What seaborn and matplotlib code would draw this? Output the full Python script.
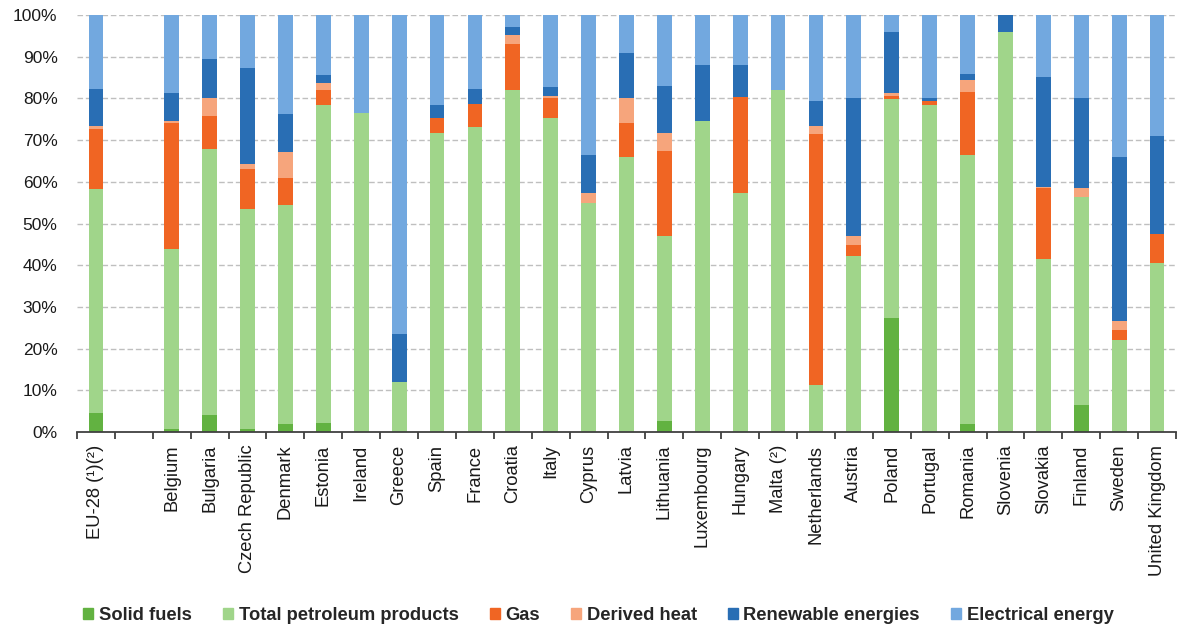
import numpy as np
import pandas as pd
import matplotlib
matplotlib.use("Agg")
import matplotlib.pyplot as plt
import seaborn as sns

# Final energy consumption by fuel, share of total (%)
countries = [
    "EU-28 (¹)(²)", " ", "Belgium", "Bulgaria", "Czech Republic", "Denmark",
    "Estonia", "Ireland", "Greece", "Spain", "France", "Croatia", "Italy",
    "Cyprus", "Latvia", "Lithuania", "Luxembourg", "Hungary", "Malta (²)",
    "Netherlands", "Austria", "Poland", "Portugal", "Romania", "Slovenia",
    "Slovakia", "Finland", "Sweden", "United Kingdom",
]
solid_fuels = [4.5, 0, 0.8, 4.0, 0.8, 1.8, 2.2, 0, 0, 0, 0, 0, 0, 0, 0, 2.6,
               0, 0, 0, 0, 0, 27.4, 0, 1.8, 0, 0, 6.5, 0, 0]
petroleum = [53.7, 0, 43.2, 63.8, 52.6, 52.7, 76.1, 76.4, 11.9, 71.8, 73.2,
             81.9, 75.4, 54.8, 66.0, 44.3, 74.7, 57.4, 81.9, 11.2, 42.2, 52.4,
             78.3, 64.6, 95.9, 41.5, 49.8, 22.1, 40.5]
gas = [14.4, 0, 30.0, 8.0, 9.7, 6.5, 3.6, 0, 0, 3.6, 5.5, 11.1, 4.7, 0, 8.0,
       20.6, 0, 23.0, 0, 60.2, 2.6, 0.8, 1.1, 15.1, 0, 16.9, 0, 2.4, 7.1]
derived_heat = [0.9, 0, 0.7, 4.2, 1.1, 6.1, 1.8, 0, 0, 0, 0, 2.2, 0.5, 2.6,
                6.0, 4.3, 0, 0, 0, 2.1, 2.1, 0.6, 0, 2.8, 0, 0.4, 2.1, 2.2, 0]
renewables = [8.8, 0, 6.5, 9.4, 23.1, 9.1, 1.8, 0, 11.6, 2.9, 3.6, 1.9, 2.1,
              9.0, 10.9, 11.2, 13.3, 7.6, 0, 5.9, 33.1, 14.7, 0.7, 1.6, 4.1,
              26.3, 21.6, 39.3, 23.5]
electricity = [17.7, 0, 18.8, 10.6, 12.7, 23.8, 14.5, 23.6, 76.5, 21.7, 17.7,
               2.9, 17.3, 33.6, 9.1, 17.0, 12.0, 12.0, 18.1, 20.6, 20.0, 4.1,
               19.9, 14.1, 0, 14.9, 20.0, 34.0, 28.9]

series_names = ["Solid fuels", "Total petroleum products", "Gas",
                "Derived heat", "Renewable energies", "Electrical energy"]
series_values = [solid_fuels, petroleum, gas, derived_heat, renewables,
                 electricity]
colors = ["#62B241", "#A0D58A", "#F06523", "#F6A57C", "#296EB4", "#72A8DF"]

sns.set_theme(style="white")
plt.rcParams["font.family"] = ["Liberation Sans", "DejaVu Sans"]

df = pd.DataFrame({"country": countries})
stack = np.cumsum(np.array(series_values, dtype=float), axis=0)
for name, top in zip(series_names, stack):
    df[name] = top

fig = plt.figure(figsize=(11.78, 6.32), dpi=100)
ax = fig.add_axes([77 / 1178, 200 / 632, 1099 / 1178, 417 / 632])

# Draw cumulative totals from the top layer down so each segment shows
for name, color in reversed(list(zip(series_names, colors))):
    sns.barplot(data=df, x="country", y=name, order=countries, color=color,
                width=0.39, saturation=1, linewidth=0, ax=ax, label=name)

ax.set_xlim(-0.5, len(countries) - 0.5)
ax.set_ylim(0, 100)
ax.set_xlabel("")
ax.set_ylabel("")

yt = np.arange(0, 101, 10)
ax.set_yticks(yt)
ax.set_yticklabels([f"{v}%" for v in yt], fontsize=12.5, color="#1a1a1a")
for v in yt[1:]:
    ax.axhline(v, color="#BFBFBF", lw=1, ls=(0, (4, 2)), zorder=0)

ax.set_xticks(range(len(countries)))
ax.set_xticklabels(countries, rotation=90, fontsize=13.2, color="#1a1a1a",
                   va="top", ha="center")
ax.set_xticks(np.arange(-0.5, len(countries), 1), minor=True)
ax.tick_params(axis="x", which="major", length=0, pad=9)
ax.tick_params(axis="x", which="minor", length=5, width=1.3,
               color="#404040", direction="out", bottom=True)
ax.tick_params(axis="y", length=0, pad=14)

for side in ("left", "right", "top"):
    ax.spines[side].set_visible(False)
ax.spines["bottom"].set_color("#404040")
ax.spines["bottom"].set_linewidth(1.3)

if ax.get_legend() is not None:
    ax.get_legend().remove()
handles = [plt.Rectangle((0, 0), 1, 1, color=c) for c in colors]
fig.legend(handles, series_names, loc="center", bbox_to_anchor=(0.508, 0.026),
           ncol=6, frameon=False, handlelength=0.55, handleheight=0.55,
           handletextpad=0.3, columnspacing=1.7,
           prop={"size": 13.2, "weight": "bold"})

fig.savefig("out.png", dpi=100)
